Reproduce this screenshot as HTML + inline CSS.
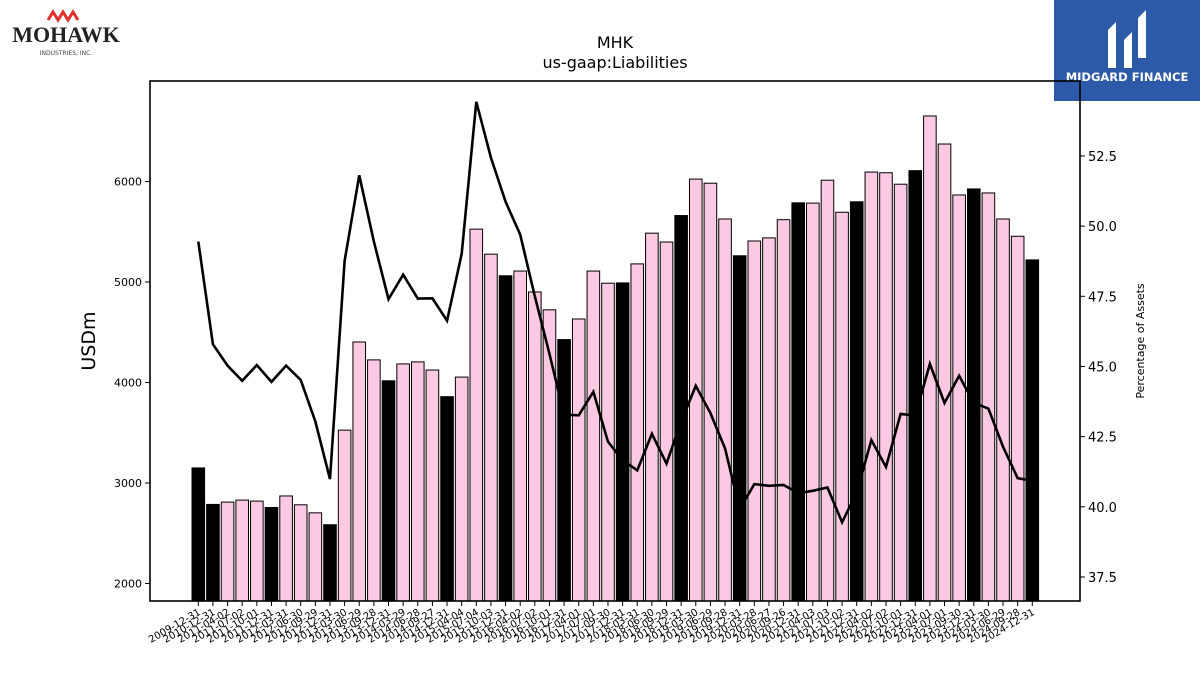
<!DOCTYPE html>
<html><head><meta charset="utf-8"><style>
body{margin:0;background:#fff;width:1200px;height:675px;overflow:hidden;font-family:"Liberation Sans","DejaVu Sans",sans-serif}
</style></head><body>
<svg id="c" width="1200" height="675" xmlns="http://www.w3.org/2000/svg" font-family="DejaVu Sans, Liberation Sans, sans-serif">
<g>
<path d="M48 20 l5 -8 l5 8 l5 -8 l5 8 l5 -8 l5 8" stroke="#e0312f" stroke-width="3" fill="none"/>
<text x="66" y="42" font-family="Liberation Serif, serif" font-size="22" font-weight="bold" text-anchor="middle" fill="#222">MOHAWK</text>
<text x="66" y="55" font-size="6" text-anchor="middle" fill="#444">INDUSTRIES, INC.</text>
</g>
<g>
<rect x="1054" y="0" width="146" height="101" fill="#2d5aa8"/>
<path d="M1108 68 V30 l8 -8 V68 Z M1124 68 V40 l8 -8 V68 Z M1138 58 V18 l8 -8 V58 Z" fill="#fff"/>
<text x="1127" y="81" font-size="11.5" font-weight="bold" text-anchor="middle" fill="#fff">MIDGARD FINANCE</text>
</g>
<text x="615" y="48" font-size="16" text-anchor="middle">MHK</text>
<text x="615" y="68" font-size="16" text-anchor="middle">us-gaap:Liabilities</text>
<g id="plot"></g>
</svg>
<script>
const values=[3150,2787,2810,2830,2820,2756,2871,2783,2703,2585,3526,4403,4225,4017,4185,4205,4124,3859,4054,5526,5277,5062,5109,4901,4723,4427,4632,5109,4988,4991,5180,5486,5398,5661,6024,5983,5627,5261,5408,5439,5620,5788,5785,6013,5694,5798,6094,6087,5973,6108,6652,6373,5866,5926,5886,5627,5455,5220];
const pct=[49.45,45.79,45.03,44.49,45.05,44.45,45.03,44.52,43.04,40.99,48.76,51.81,49.45,47.40,48.27,47.42,47.43,46.63,49.01,54.43,52.44,50.87,49.70,47.50,45.45,43.28,43.26,44.10,42.32,41.66,41.30,42.60,41.54,43.04,44.31,43.34,42.08,39.91,40.81,40.75,40.78,40.49,40.57,40.69,39.45,40.51,42.38,41.42,43.31,43.25,45.09,43.70,44.67,43.70,43.50,42.14,41.02,40.93];
const annual=[1,1,0,0,0,1,0,0,0,1,0,0,0,1,0,0,0,1,0,0,0,1,0,0,0,1,0,0,0,1,0,0,0,1,0,0,0,1,0,0,0,1,0,0,0,1,0,0,0,1,0,0,0,1,0,0,0,1];
const labels=["2009-12-31","2010-12-31","2011-04-02","2011-07-02","2011-10-01","2011-12-31","2012-03-31","2012-06-30","2012-09-29","2012-12-31","2013-03-30","2013-06-29","2013-09-28","2013-12-31","2014-03-29","2014-06-28","2014-09-27","2014-12-31","2015-04-04","2015-07-04","2015-10-03","2015-12-31","2016-04-02","2016-07-02","2016-10-01","2016-12-31","2017-04-01","2017-07-01","2017-09-30","2017-12-31","2018-03-31","2018-06-30","2018-09-29","2018-12-31","2019-03-30","2019-06-29","2019-09-28","2019-12-31","2020-03-28","2020-06-27","2020-09-26","2020-12-31","2021-04-03","2021-07-03","2021-10-02","2021-12-31","2022-04-02","2022-07-02","2022-10-01","2022-12-31","2023-04-01","2023-07-01","2023-09-30","2023-12-31","2024-03-30","2024-06-29","2024-09-28","2024-12-31"];
const leftTicks=[2000,3000,4000,5000,6000];
const rightTicks=[37.5,40.0,42.5,45.0,47.5,50.0,52.5];
const NS="http://www.w3.org/2000/svg",g=document.getElementById('plot');
const L=150,R=1080,T=81,B=601;
const step=(1032.3-198.3)/(values.length-1);
const xs=i=>198.3+i*step;
const yL=v=>583.5-(v-2000)*0.1005;
const yR=v=>577-(v-37.5)*28.07;
function mk(t,a){const e=document.createElementNS(NS,t);for(const k in a)e.setAttribute(k,a[k]);g.appendChild(e);return e;}
values.forEach((v,i)=>{const bw=12.6;
const r=mk('rect',{x:xs(i)-bw/2,y:yL(v),width:bw,height:B-yL(v),fill:annual[i]?'#000':'#fcc9e3',stroke:'#000','stroke-width':1});


const tk=mk('line',{x1:xs(i),x2:xs(i),y1:B,y2:B+5,stroke:'#000','stroke-width':1});


const t=mk('text',{x:xs(i)+3,y:B+13,'font-size':10,'text-anchor':'end',transform:`rotate(-30 ${xs(i)+3} ${B+13})`});
t.textContent=labels[i];


});
const line=mk('polyline',{points:pct.map((p,i)=>xs(i)+','+yR(p)).join(' '),fill:'none',stroke:'#000','stroke-width':2.6,'stroke-linejoin':'miter'});


const fr=mk('rect',{x:L,y:T,width:R-L,height:B-T,fill:'none',stroke:'#000','stroke-width':1.6});


leftTicks.forEach(v=>{mk('line',{x1:L-5,x2:L,y1:yL(v),y2:yL(v),stroke:'#000'});
const t=mk('text',{x:L-8,y:yL(v)+4,'font-size':11,'text-anchor':'end'});t.textContent=v;

});
rightTicks.forEach(v=>{mk('line',{x1:R,x2:R+5,y1:yR(v),y2:yR(v),stroke:'#000'});
const t=mk('text',{x:R+8,y:yR(v)+5,'font-size':13}); t.textContent=v.toFixed(1);

});
const yt=mk('text',{x:95,y:341,'font-size':19,'text-anchor':'middle',transform:'rotate(-90 95 341)'});yt.textContent='USDm';


const yt2=mk('text',{x:1144,y:341,'font-size':11,'text-anchor':'middle',transform:'rotate(-90 1144 341)'});yt2.textContent='Percentage of Assets';


</script>
</body></html>
